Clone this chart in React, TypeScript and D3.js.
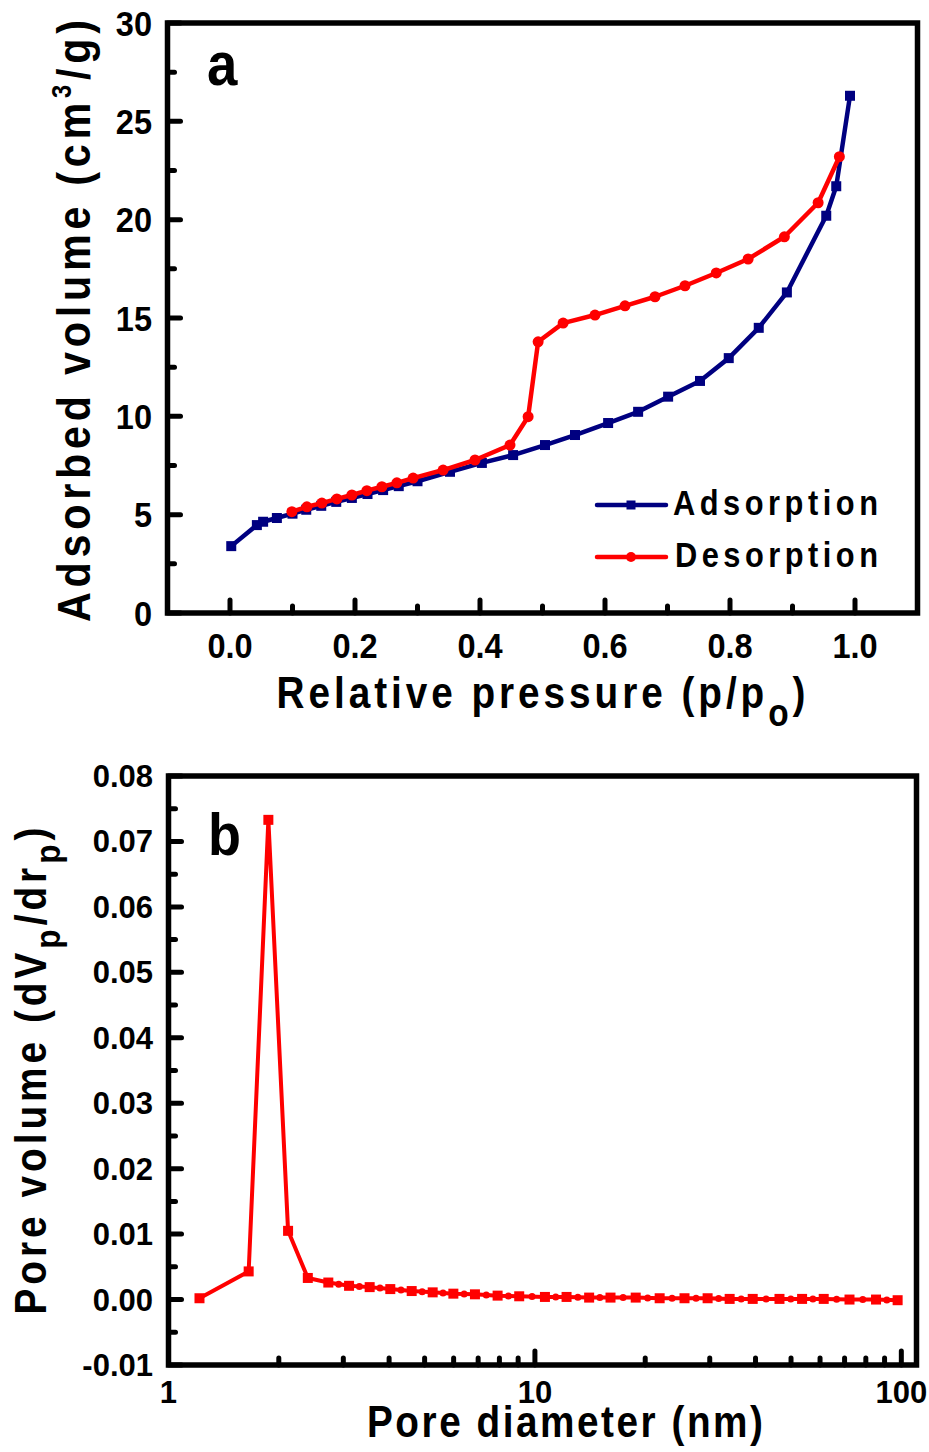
import React from 'react';
import * as d3 from 'd3';

// ---------- Data: panel a (N2 isotherm) ----------
const adsX = [0.002, 0.043, 0.053, 0.075, 0.1, 0.122, 0.146, 0.17, 0.195, 0.22, 0.245, 0.27, 0.3, 0.352, 0.403, 0.453, 0.504, 0.552, 0.605, 0.653, 0.701, 0.752, 0.798, 0.846, 0.891, 0.954, 0.97, 0.992];
const adsY = [3.4, 4.47, 4.64, 4.83, 5.05, 5.25, 5.45, 5.65, 5.85, 6.05, 6.25, 6.45, 6.7, 7.18, 7.63, 8.03, 8.54, 9.05, 9.66, 10.23, 11.0, 11.8, 12.96, 14.5, 16.3, 20.2, 21.7, 26.3];
const desX = [0.975, 0.941, 0.887, 0.829, 0.778, 0.728, 0.68, 0.632, 0.584, 0.533, 0.493, 0.477, 0.448, 0.392, 0.341, 0.293, 0.267, 0.243, 0.219, 0.195, 0.171, 0.147, 0.123, 0.099];
const desY = [23.2, 20.86, 19.13, 18.0, 17.29, 16.64, 16.08, 15.62, 15.15, 14.74, 13.79, 9.98, 8.54, 7.78, 7.27, 6.86, 6.62, 6.42, 6.22, 6.0, 5.8, 5.59, 5.4, 5.15];

const isoXTicks = [0, 0.2, 0.4, 0.6, 0.8, 1.0];
const isoXTickLabels = ['0.0', '0.2', '0.4', '0.6', '0.8', '1.0'];
const isoXMinor = [0.1, 0.3, 0.5, 0.7, 0.9];
const isoYTicks = [0, 5, 10, 15, 20, 25, 30];
const isoYTickLabels = ['0', '5', '10', '15', '20', '25', '30'];
const isoYMinor = [2.5, 7.5, 12.5, 17.5, 22.5, 27.5];
const legendLabels = ['Adsorption', 'Desorption'];

// ---------- Data: panel b (pore size distribution) ----------
const poreD = [1.215, 1.655, 1.873, 2.12, 2.4, 2.73, 3.11, 3.54, 4.03, 4.61, 5.26, 5.99, 6.86, 7.91, 9.06, 10.65, 12.2, 14.06, 16.08, 18.84, 21.9, 25.6, 29.6, 34.0, 39.3, 46.5, 53.6, 61.4, 72.2, 85.3, 97.7];
const poreV = [0.0002, 0.0043, 0.0733, 0.0105, 0.0033, 0.0026, 0.0021, 0.0019, 0.0016, 0.0013, 0.0011, 0.0009, 0.0008, 0.0006, 0.0005, 0.0004, 0.0004, 0.0003, 0.0003, 0.0003, 0.0002, 0.0002, 0.0002, 0.0001, 0.0001, 0.0001, 0.0001, 0.0001, 0.0, 0.0, -0.0001];

const poreYTicks = [-0.01, 0, 0.01, 0.02, 0.03, 0.04, 0.05, 0.06, 0.07, 0.08];
const poreYTickLabels = ['-0.01', '0.00', '0.01', '0.02', '0.03', '0.04', '0.05', '0.06', '0.07', '0.08'];
const poreYMinor = [-0.005, 0.005, 0.015, 0.025, 0.035, 0.045, 0.055, 0.065, 0.075];
const poreXTicks = [1, 10, 100];
const poreXTickLabels = ['1', '10', '100'];
const poreXMinor = [2, 3, 4, 5, 6, 7, 8, 9, 20, 30, 40, 50, 60, 70, 80, 90];

const NAVY = '#000080';
const RED = '#ff0000';
const FONT = '"Liberation Sans", Arial, sans-serif';

type TProps = {
  x: number; y: number; rot?: number; sx?: number; size: number;
  anchor?: 'start' | 'middle' | 'end'; len?: number; children: React.ReactNode;
};
function T({ x, y, rot = 0, sx = 1, size, anchor = 'middle', len, children }: TProps) {
  return (
    <text
      transform={`translate(${x},${y}) rotate(${rot}) scale(${sx},1)`}
      fontSize={size}
      fontFamily={FONT}
      fontWeight="bold"
      textAnchor={anchor}
      fill="#000"
      textLength={len ? len / sx : undefined}
      lengthAdjust={len ? 'spacing' : undefined}
    >
      {children}
    </text>
  );
}

export default function App() {
  // panel a scales
  const xA = d3.scaleLinear().domain([-0.1, 1.1]).range([167.5, 917.5]);
  const yA = d3.scaleLinear().domain([0, 30]).range([613, 23]);
  // panel b scales
  const xB = d3.scaleLog().domain([1, 110]).range([168.5, 916.5]);
  const yB = d3.scaleLinear().domain([-0.01, 0.08]).range([1365, 776]);

  const ads = adsX.map((x, i) => [x, adsY[i]] as [number, number]);
  const des = desX.map((x, i) => [x, desY[i]] as [number, number]);
  const pore = poreD.map((x, i) => [x, poreV[i]] as [number, number]);

  const lineA = d3.line<[number, number]>().x(d => xA(d[0])).y(d => yA(d[1]));
  const lineB = d3.line<[number, number]>().x(d => xB(d[0])).y(d => yB(d[1]));

  const axisW = 5.5;
  const tickW = 5;
  const sq = 10;

  const [aL, aR] = xA.range();
  const [aB, aT] = yA.range();
  const [bL, bR] = xB.range();
  const [bB, bT] = yB.range();

  const dots = pore.slice(6).map((p, i) => {
    const prev = pore[i + 5];
    return [(xB(prev[0]) + xB(p[0])) / 2, (yB(prev[1]) + yB(p[1])) / 2];
  });

  return (
    <svg width={929} height={1452} style={{ position: 'absolute', left: 0, top: 0, background: '#fff' }}>
      <rect x={0} y={0} width={929} height={1452} fill="#fff" />

      {/* ================= Panel a ================= */}
      {/* ticks */}
      {isoXTicks.map(v => (
        <line key={'xa' + v} x1={xA(v)} x2={xA(v)} y1={aB} y2={aB - 13} stroke="#000" strokeWidth={tickW} strokeLinecap="round" />
      ))}
      {isoXMinor.map(v => (
        <line key={'xam' + v} x1={xA(v)} x2={xA(v)} y1={aB} y2={aB - 7} stroke="#000" strokeWidth={tickW} strokeLinecap="round" />
      ))}
      {isoYTicks.map(v => (
        <line key={'ya' + v} x1={aL} x2={aL + 13} y1={yA(v)} y2={yA(v)} stroke="#000" strokeWidth={tickW} strokeLinecap="round" />
      ))}
      {isoYMinor.map(v => (
        <line key={'yam' + v} x1={aL} x2={aL + 7} y1={yA(v)} y2={yA(v)} stroke="#000" strokeWidth={tickW} strokeLinecap="round" />
      ))}
      <rect x={aL} y={aT} width={aR - aL} height={aB - aT} fill="none" stroke="#000" strokeWidth={axisW} />

      {/* tick labels */}
      {isoXTicks.map((v, i) => (
        <T key={'xal' + v} x={xA(v)} y={658} size={35} sx={0.93}>{isoXTickLabels[i]}</T>
      ))}
      {isoYTicks.map((v, i) => (
        <T key={'yal' + v} x={152} y={yA(v) + 12.5} size={35} sx={0.93} anchor="end">{isoYTickLabels[i]}</T>
      ))}

      {/* axis titles */}
      <T x={541} y={708} size={44} sx={0.88} len={529}>
        Relative pressure (p/p<tspan fontSize={38} dy={18}>o</tspan><tspan dy={-18}>)</tspan>
      </T>
      <T x={90} y={321} rot={-90} size={47} sx={0.88} len={602}>
        Adsorbed volume (cm<tspan fontSize={27} dy={-19}>3</tspan><tspan dy={19}>/g)</tspan>
      </T>

      {/* series */}
      <path d={lineA(ads) || ''} fill="none" stroke={NAVY} strokeWidth={4.5} strokeLinejoin="round" />
      {ads.map((d, i) => (
        <rect key={'as' + i} x={xA(d[0]) - sq / 2} y={yA(d[1]) - sq / 2} width={sq} height={sq} fill={NAVY} />
      ))}
      <path d={lineA(des) || ''} fill="none" stroke={RED} strokeWidth={4.5} strokeLinejoin="round" />
      {des.map((d, i) => (
        <circle key={'ds' + i} cx={xA(d[0])} cy={yA(d[1])} r={5.5} fill={RED} />
      ))}

      {/* legend */}
      <line x1={597} x2={666} y1={505} y2={505} stroke={NAVY} strokeWidth={4.5} strokeLinecap="round" />
      <rect x={631 - 4.5} y={505 - 4.5} width={9} height={9} fill={NAVY} />
      <T x={673} y={515} size={35} sx={0.88} anchor="start" len={205}>{legendLabels[0]}</T>
      <line x1={597} x2={666} y1={557} y2={557} stroke={RED} strokeWidth={4.5} strokeLinecap="round" />
      <circle cx={631} cy={557} r={5} fill={RED} />
      <T x={675} y={567} size={35} sx={0.88} anchor="start" len={203}>{legendLabels[1]}</T>

      <T x={207} y={85} size={62} sx={0.88} anchor="start">a</T>

      {/* ================= Panel b ================= */}
      {poreXTicks.slice(1).map(v => (
        <line key={'xb' + v} x1={xB(v)} x2={xB(v)} y1={bB} y2={bB - 14} stroke="#000" strokeWidth={tickW} strokeLinecap="round" />
      ))}
      {poreXMinor.map(v => (
        <line key={'xbm' + v} x1={xB(v)} x2={xB(v)} y1={bB} y2={bB - 7} stroke="#000" strokeWidth={tickW} strokeLinecap="round" />
      ))}
      {poreYTicks.map(v => (
        <line key={'yb' + v} x1={bL} x2={bL + 13} y1={yB(v)} y2={yB(v)} stroke="#000" strokeWidth={tickW} strokeLinecap="round" />
      ))}
      {poreYMinor.map(v => (
        <line key={'ybm' + v} x1={bL} x2={bL + 7} y1={yB(v)} y2={yB(v)} stroke="#000" strokeWidth={tickW} strokeLinecap="round" />
      ))}
      <rect x={bL} y={bT} width={bR - bL} height={bB - bT} fill="none" stroke="#000" strokeWidth={axisW} />

      {poreYTicks.map((v, i) => (
        <T key={'ybl' + v} x={153} y={yB(v) + 11} size={31} anchor="end">{poreYTickLabels[i]}</T>
      ))}
      {poreXTicks.map((v, i) => (
        <T key={'xbl' + v} x={xB(v)} y={1403} size={32} sx={0.97}>{poreXTickLabels[i]}</T>
      ))}

      <T x={565} y={1437} size={44} sx={0.88} len={396}>Pore diameter (nm)</T>
      <T x={46} y={1071} rot={-90} size={44} sx={0.88} len={487}>
        Pore volume (dV<tspan fontSize={36} dy={14}>p</tspan><tspan dy={-14}>/dr</tspan><tspan fontSize={36} dy={14}>p</tspan><tspan dy={-14}>)</tspan>
      </T>

      <path d={lineB(pore) || ''} fill="none" stroke={RED} strokeWidth={4} strokeLinejoin="round" />
      {dots.map((d, i) => (
        <circle key={'pd' + i} cx={d[0]} cy={d[1]} r={3.5} fill={RED} />
      ))}
      {pore.map((d, i) => (
        <rect key={'ps' + i} x={xB(d[0]) - sq / 2} y={yB(d[1]) - sq / 2} width={sq} height={sq} fill={RED} />
      ))}

      <T x={208} y={855} size={60} sx={0.9} anchor="start">b</T>
    </svg>
  );
}
